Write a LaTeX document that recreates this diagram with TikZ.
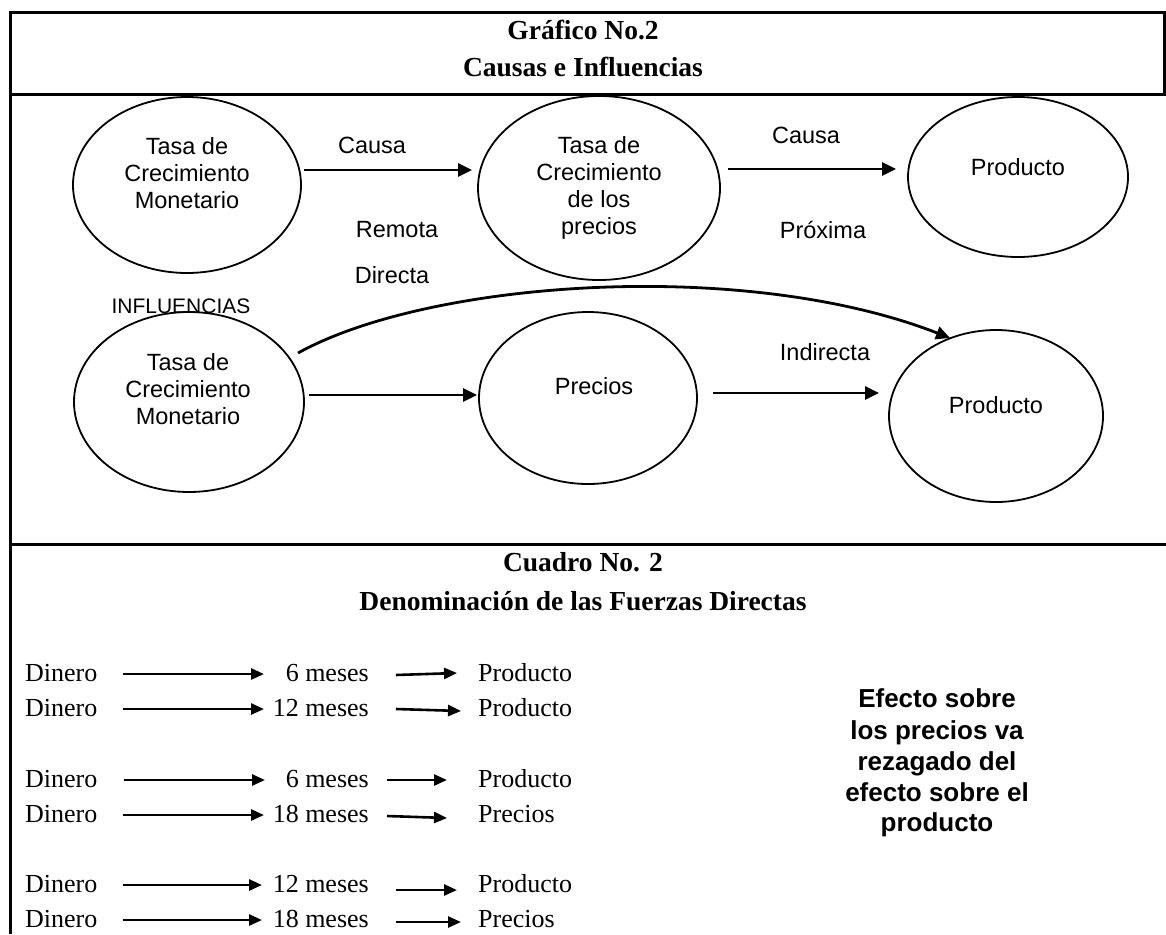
\documentclass[tikz,border=0pt]{standalone}
\usepackage{fontspec}
\setmainfont{Liberation Serif}
\newfontfamily\arial{Liberation Sans}
\usetikzlibrary{shapes.geometric,arrows.meta,calc}
\begin{document}
\begin{tikzpicture}[x=1pt,y=-1pt,
  framel/.style={line width=3pt},
  ell/.style={ellipse,draw,line width=1.8pt,inner sep=0pt,outer sep=0pt},
  sanstxt/.style={font=\arial\fontsize{23.5}{27}\selectfont,anchor=base,inner sep=0pt},
  capstxt/.style={font=\arial\fontsize{21}{25}\selectfont,anchor=base,inner sep=0pt},
  ttl/.style={font=\bfseries\fontsize{27.5}{33}\selectfont,anchor=base,inner sep=0pt},
  sertxt/.style={font=\fontsize{26}{30}\selectfont,inner sep=0pt},
  boldtxt/.style={font=\arial\bfseries\fontsize{26}{31}\selectfont,anchor=base,inner sep=0pt},
  arr/.style={line width=2.8pt,-{Triangle[length=14pt,width=13pt]}},
  sarr/.style={line width=2.6pt,-{Triangle[length=13pt,width=11pt]}},
]
\useasboundingbox (0,0) rectangle (1166,934);
% frame
\draw[framel] (10,934) -- (10,13) -- (1164.5,13) -- (1164.5,94);
\draw[framel] (10,94) -- (1166,94);
\draw[framel] (10,544) -- (1166,544);
% titles
\node[ttl] (t1) at (583,40) {Gráfico No.2};
\node[ttl] (t2) at (583,77) {Causas e Influencias};
% ellipses
\node[ell,minimum width=228pt,minimum height=176pt] (e1) at (187,185) {};
\node[ell,minimum width=242pt,minimum height=184pt] (e2) at (599,188) {};
\node[ell,minimum width=220pt,minimum height=160pt] (e3) at (1018,177) {};
\node[ell,minimum width=230pt,minimum height=180pt] (e4) at (189,402) {};
\node[ell,minimum width=218pt,minimum height=172pt] (e5) at (588,398) {};
\node[ell,minimum width=214pt,minimum height=172pt] (e6) at (996,416) {};
% ellipse texts
\node[sanstxt] (e1a) at (187,154) {Tasa de};
\node[sanstxt] (e1b) at (187,181) {Crecimiento};
\node[sanstxt] (e1c) at (187,208) {Monetario};
\node[sanstxt] (e2a) at (599,153) {Tasa de};
\node[sanstxt] (e2b) at (599,180) {Crecimiento};
\node[sanstxt] (e2c) at (599,207) {de los};
\node[sanstxt] (e2d) at (599,234) {precios};
\node[sanstxt] (e3a) at (1018,175) {Producto};
\node[sanstxt] (e4a) at (188,370) {Tasa de};
\node[sanstxt] (e4b) at (188,397) {Crecimiento};
\node[sanstxt] (e4c) at (188,424) {Monetario};
\node[sanstxt] (e5a) at (594,394) {Precios};
\node[sanstxt] (e6a) at (996,413) {Producto};
% labels
\node[sanstxt] (lc1) at (372,153) {Causa};
\node[sanstxt] (lc2) at (806,143) {Causa};
\node[sanstxt] (lrem) at (397,237) {Remota};
\node[sanstxt] (lprox) at (823,238) {Próxima};
\node[sanstxt] (ldir) at (392,283) {Directa};
\node[capstxt] (linf) at (181,313) {INFLUENCIAS};
\node[sanstxt] (lind) at (825,360) {Indirecta};
% connectors
\draw[arr] ($(e1.east)+(3,-15)$) -- ($(e2.west)+(-6,-18)$);
\draw[arr] ($(e2.east)+(8,-19)$) -- ($(e3.west)+(-12,-8)$);
\draw[arr] ($(e4.east)+(5,-7)$) -- ($(e5.west)+(-2,-3)$);
\draw[arr] ($(e5.east)+(16,-5)$) -- ($(e6.west)+(-10,-23)$);
\draw[arr] ($(e4.center)+(109,-49)$) .. controls (430,280) and (745,258) .. ($(e6.center)+(-46,-78)$);
% lower section
\node[ttl] (c1) at (583,571) {Cuadro No. 2};
\node[ttl] (c2) at (583,610) {Denominación de las Fuerzas Directas};
% row 1
\node[sertxt,anchor=base west] (d1) at (25,681) {Dinero};
\node[sertxt,anchor=base east] (m1) at (369,681) {6 meses};
\node[sertxt,anchor=base west] (p1) at (478,681) {Producto};
\draw[sarr] ($(d1.base east)+(25,-7)$) -- ($(m1.base east)+(-105,-7)$);
\draw[sarr] ($(m1.base east)+(27,-6)$) -- ($(p1.base west)+(-21,-8)$);
% row 2
\node[sertxt,anchor=base west] (d2) at (25,716) {Dinero};
\node[sertxt,anchor=base east] (m2) at (369,716) {12 meses};
\node[sertxt,anchor=base west] (p2) at (478,716) {Producto};
\draw[sarr] ($(d2.base east)+(25,-7)$) -- ($(m2.base east)+(-105,-7)$);
\draw[sarr] ($(m2.base east)+(27,-7)$) -- ($(p2.base west)+(-17,-5)$);
% row 3
\node[sertxt,anchor=base west] (d3) at (25,787) {Dinero};
\node[sertxt,anchor=base east] (m3) at (369,787) {6 meses};
\node[sertxt,anchor=base west] (p3) at (478,787) {Producto};
\draw[sarr] ($(d3.base east)+(26,-7)$) -- ($(m3.base east)+(-104,-7)$);
\draw[sarr] ($(m3.base east)+(18,-7)$) -- ($(p3.base west)+(-31,-7)$);
% row 4
\node[sertxt,anchor=base west] (d4) at (25,822) {Dinero};
\node[sertxt,anchor=base east] (m4) at (369,822) {18 meses};
\node[sertxt,anchor=base west] (p4) at (478,822) {Precios};
\draw[sarr] ($(d4.base east)+(25,-7)$) -- ($(m4.base east)+(-105,-7)$);
\draw[sarr] ($(m4.base east)+(18,-6)$) -- ($(p4.base west)+(-31,-4)$);
% row 5
\node[sertxt,anchor=base west] (d5) at (25,892) {Dinero};
\node[sertxt,anchor=base east] (m5) at (369,892) {12 meses};
\node[sertxt,anchor=base west] (p5) at (478,892) {Producto};
\draw[sarr] ($(d5.base east)+(25,-7)$) -- ($(m5.base east)+(-107,-7)$);
\draw[sarr] ($(m5.base east)+(27,-2)$) -- ($(p5.base west)+(-21,-2)$);
% row 6
\node[sertxt,anchor=base west] (d6) at (25,927) {Dinero};
\node[sertxt,anchor=base east] (m6) at (369,927) {18 meses};
\node[sertxt,anchor=base west] (p6) at (478,927) {Precios};
\draw[sarr] ($(d6.base east)+(25,-7)$) -- ($(m6.base east)+(-107,-7)$);
\draw[sarr] ($(m6.base east)+(27,-5)$) -- ($(p6.base west)+(-17,-5)$);
% note
\node[boldtxt] (f1) at (937,707) {Efecto sobre};
\node[boldtxt] (f2) at (937,739) {los precios va};
\node[boldtxt] (f3) at (937,770) {rezagado del};
\node[boldtxt] (f4) at (937,801) {efecto sobre el};
\node[boldtxt] (f5) at (937,831) {producto};
\end{tikzpicture}
\end{document}
